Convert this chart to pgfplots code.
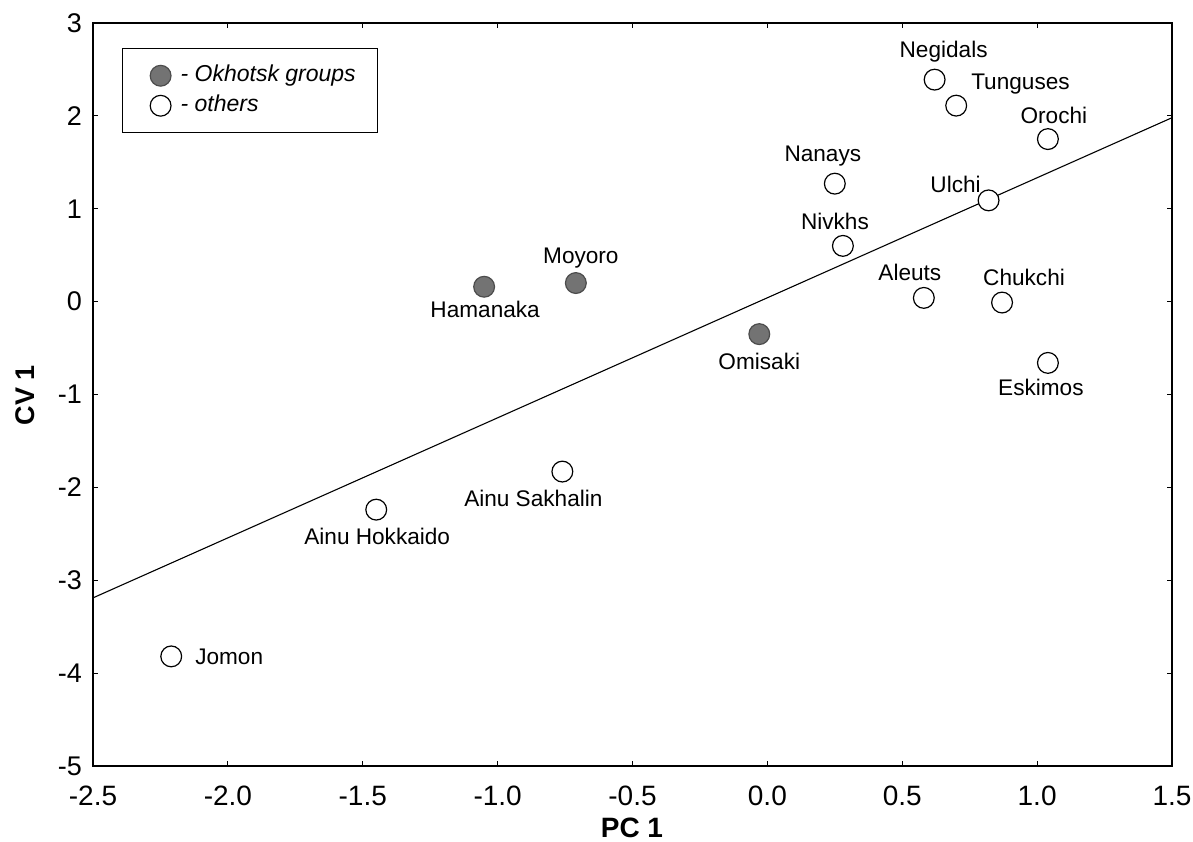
\documentclass[border=0pt]{standalone}
\usepackage{pgfplots}
\pgfplotsset{compat=1.18}
\usepackage{fontspec}
\setmainfont{Liberation Sans}
\begin{document}
\begin{tikzpicture}
\begin{axis}[
  scale only axis, width=539.5pt, height=371.5pt,
  xmin=-2.5, xmax=1.5, ymin=-5, ymax=3,
  xtick={-2.5,-2.0,-1.5,-1.0,-0.5,0,0.5,1.0,1.5},
  ytick={-5,-4,-3,-2,-1,0,1,2,3},
  tick align=inside, major tick length=2.5pt,
  tick style={black, line width=0.5pt},
  axis line style={black, line width=0.8pt},
  /pgf/number format/assume math mode=true,
  xticklabel style={/pgf/number format/.cd, fixed, fixed zerofill, precision=1, assume math mode=true, /tikz/.cd, yshift=-6.5pt, font=\fontsize{14}{16}\selectfont},
  yticklabel style={xshift=-2pt, font=\fontsize{13.5}{16}\selectfont},
  xlabel={PC 1}, ylabel={CV 1},
  xlabel style={at={(axis description cs:0.4995,-0.0835)}, anchor=center, font=\fontsize{14}{16}\selectfont\bfseries},
  ylabel style={at={(axis description cs:-0.063,0.499)}, anchor=center, font=\fontsize{13.5}{16}\selectfont\bfseries},
  legend style={at={(axis description cs:0.027,0.966)}, anchor=north west, draw=black, line width=0.5pt,
    inner xsep=9pt, inner ysep=6pt, row sep=0pt,
    nodes={text height=8.5pt, text depth=2.5pt, inner ysep=2pt},
    font=\itshape\fontsize{11.5}{13}\selectfont},
  legend cell align=left,
  legend image code/.code={\path[draw=none,fill=none] (-10pt,0) -- (8pt,0); \draw[#1,only marks] plot coordinates {(0pt,0pt)};},
  clip=false,
]
\addplot[black, line width=0.55pt, forget plot] coordinates {(-2.5,-3.19) (1.5,1.98)};

\addplot[only marks, mark=*, mark size=5.2pt, mark options={fill=black!55, draw=black!70, line width=0.6pt}]
  coordinates {(-1.05,0.16) (-0.71,0.20) (-0.03,-0.35)};
\addlegendentry{- Okhotsk groups}

\addplot[only marks, mark=*, mark size=5.2pt, mark options={fill=white, draw=black, line width=0.6pt}]
  coordinates {
  (-2.21,-3.82) (-1.45,-2.24) (-0.76,-1.83) (0.28,0.60) (0.25,1.27)
  (0.58,0.04) (0.87,-0.01) (1.04,-0.66) (0.82,1.09) (1.04,1.75)
  (0.70,2.11) (0.62,2.39)};
\addlegendentry{- others}

\begin{scope}[every node/.style={font=\fontsize{11.3}{13}\selectfont}]
\node at (axis cs:0.62,2.39) [xshift=4.5pt, yshift=14pt] {Negidals};
\node at (axis cs:0.70,2.11) [anchor=west, xshift=4pt, yshift=11pt] {Tunguses};
\node at (axis cs:1.04,1.75) [xshift=3pt, yshift=12pt] {Orochi};
\node at (axis cs:0.25,1.27) [xshift=-6pt, yshift=14pt] {Nanays};
\node at (axis cs:0.82,1.09) [xshift=-16.5pt, yshift=8pt] {Ulchi};
\node at (axis cs:0.28,0.60) [xshift=-4pt, yshift=12pt] {Nivkhs};
\node at (axis cs:-0.71,0.20) [xshift=2.5pt, yshift=12.5pt] {Moyoro};
\node at (axis cs:-1.05,0.16) [xshift=0.5pt, yshift=-11.5pt] {Hamanaka};
\node at (axis cs:-0.03,-0.35) [xshift=0pt, yshift=-13.5pt] {Omisaki};
\node at (axis cs:0.58,0.04) [xshift=-7pt, yshift=12.5pt] {Aleuts};
\node at (axis cs:0.87,-0.01) [xshift=11pt, yshift=12.5pt] {Chukchi};
\node at (axis cs:1.04,-0.66) [xshift=-3.5pt, yshift=-12.5pt] {Eskimos};
\node at (axis cs:-0.76,-1.83) [xshift=-14.5pt, yshift=-13.5pt] {Ainu Sakhalin};
\node at (axis cs:-1.45,-2.24) [xshift=0.5pt, yshift=-13.5pt] {Ainu Hokkaido};
\node at (axis cs:-2.21,-3.82) [anchor=west, xshift=8.5pt] {Jomon};
\end{scope}
\end{axis}
\pgfresetboundingbox
\path[use as bounding box] ([xshift=-46.5pt,yshift=-38pt]current axis.south west) rectangle ([xshift=10.5pt,yshift=11.5pt]current axis.north east);
\end{tikzpicture}
\end{document}
